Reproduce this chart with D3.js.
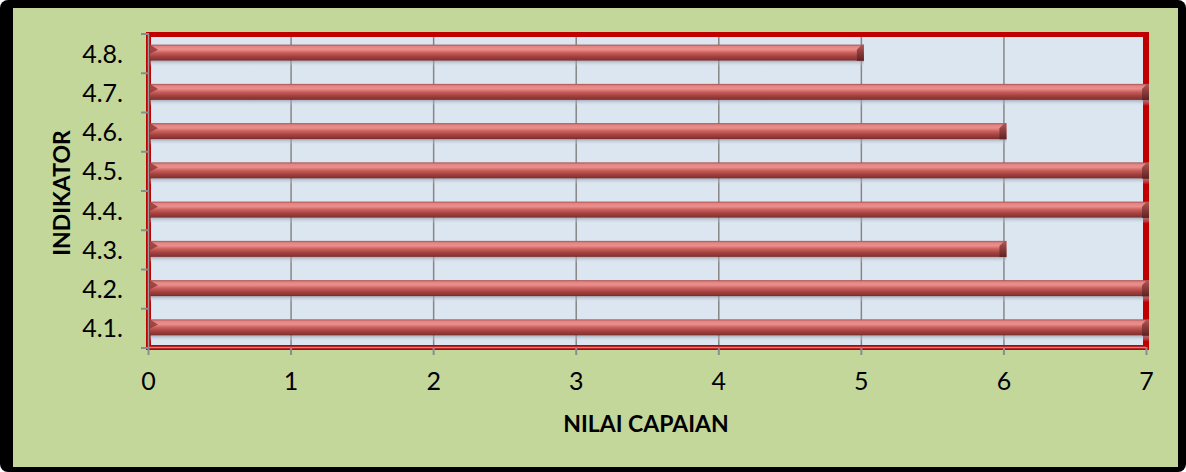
<!DOCTYPE html>
<html>
<head>
<meta charset="utf-8">
<script src="https://cdn.jsdelivr.net/npm/d3@7"></script>
<style>
  html, body { margin: 0; padding: 0; background: #ffffff; }
  svg { display: block; }
</style>
</head>
<body>
<div id="chart"></div>
<script>
// ---- data ----
const categories = ["4.1.", "4.2.", "4.3.", "4.4.", "4.5.", "4.6.", "4.7.", "4.8."];
const values = [7, 7, 6, 7, 7, 6, 7, 5];
const xTicks = [0, 1, 2, 3, 4, 5, 6, 7];
const xTitle = "NILAI CAPAIAN";
const yTitle = "INDIKATOR";

const W = 1186, H = 472;
const svg = d3.select("#chart").append("svg").attr("width", W).attr("height", H);

const defs = svg.append("defs");
const g1 = defs.append("linearGradient").attr("id", "barGrad").attr("x1", 0).attr("y1", 0).attr("x2", 0).attr("y2", 1);
[[0, "#a5504e"], [0.12, "#e38683"], [0.3, "#ec8f8c"], [0.5, "#c9605d"], [0.75, "#a2403e"], [0.92, "#8a3533"], [1, "#6f2a29"]]
  .forEach(([o, c]) => g1.append("stop").attr("offset", o).attr("stop-color", c));
const g2 = defs.append("linearGradient").attr("id", "capGrad").attr("x1", 0).attr("y1", 0).attr("x2", 0).attr("y2", 1);
[[0, "#b05a58"], [0.3, "#9a4644"], [1, "#5e2322"]]
  .forEach(([o, c]) => g2.append("stop").attr("offset", o).attr("stop-color", c));
const g3 = defs.append("linearGradient").attr("id", "shadowGrad").attr("x1", 0).attr("y1", 0).attr("x2", 0).attr("y2", 1);
[[0, "#8e97a6", 0.7], [1, "#dce6f1", 0]]
  .forEach(([o, c, op]) => g3.append("stop").attr("offset", o).attr("stop-color", c).attr("stop-opacity", op));

// frame
svg.append("rect").attr("x", 0).attr("y", 0).attr("width", W).attr("height", H).attr("rx", 8).attr("fill", "#000");
svg.append("rect").attr("x", 13).attr("y", 8).attr("width", 1165).attr("height", 459).attr("fill", "#c4d79b");

// scales
const x = d3.scaleLinear().domain([0, 7]).range([148, 1146]);
const y = d3.scaleBand().domain(categories.slice().reverse()).range([34, 348]).paddingInner(0).paddingOuter(0);

// plot area
svg.append("rect").attr("x", 146).attr("y", 32).attr("width", 1003).attr("height", 318).attr("fill", "#c00000");
svg.append("rect").attr("x", 151).attr("y", 37).attr("width", 992).attr("height", 308).attr("fill", "#dce6f1");

// gridlines
svg.append("g").selectAll("line").data(xTicks.filter(d => d > 0 && d < 7)).join("line")
  .attr("x1", d => x(d) + 0.5).attr("x2", d => x(d) + 0.5)
  .attr("y1", 37).attr("y2", 345)
  .attr("stroke", "#868686").attr("stroke-width", 1.5);

// axis lines (gray, between red edges)
svg.append("line").attr("x1", 148.5).attr("x2", 148.5).attr("y1", 34).attr("y2", 348).attr("stroke", "#9a9a9a").attr("stroke-width", 1.5);
svg.append("line").attr("x1", 148).attr("x2", 1146).attr("y1", 347.5).attr("y2", 347.5).attr("stroke", "#9a9a9a").attr("stroke-width", 1.5);

// y axis
const yAxis = d3.axisLeft(y).tickSize(0).tickPadding(25);
const yg = svg.append("g").attr("transform", "translate(148,0)").call(yAxis);
yg.select(".domain").remove();
yg.selectAll("text").attr("font-family", "Lato, 'Open Sans', sans-serif").attr("font-size", 25).attr("fill", "#000").attr("dy", "0.36em");
// y band-edge ticks
const edges = categories.map((c, i) => y(c)).concat([348]);
svg.append("g").selectAll("line").data(edges).join("line")
  .attr("x1", 141).attr("x2", 149).attr("y1", d => d).attr("y2", d => d)
  .attr("stroke", "#8c8c8c").attr("stroke-width", 2);

// x axis
const xAxis = d3.axisBottom(x).tickValues(xTicks).tickSize(8).tickPadding(17).tickFormat(d3.format("d"));
const xg = svg.append("g").attr("transform", "translate(0,347)").call(xAxis);
xg.select(".domain").remove();
xg.selectAll(".tick line").attr("stroke", "#8c8c8c").attr("stroke-width", 2);
xg.selectAll("text").attr("font-family", "Lato, 'Open Sans', sans-serif").attr("font-size", 25).attr("fill", "#000");

// bars
const bh = 16;
const bars = svg.append("g").selectAll("g").data(categories).join("g");
bars.append("rect")
  .attr("x", 150).attr("y", (d) => y(d) + y.bandwidth() / 2 - 1 + bh / 2)
  .attr("width", (d, i) => x(values[i]) + 3 - 150).attr("height", 6)
  .attr("fill", "url(#shadowGrad)");
bars.append("rect")
  .attr("x", 150).attr("y", d => y(d) + y.bandwidth() / 2 - 1 - bh / 2)
  .attr("width", (d, i) => x(values[i]) + 3 - 150).attr("height", bh)
  .attr("fill", "url(#barGrad)");
// end caps
bars.append("path")
  .attr("d", (d, i) => {
    const xe = x(values[i]) + 3, t = y(d) + y.bandwidth() / 2 - 1 - bh / 2;
    return `M${xe - 7},${t + bh} L${xe - 7},${t + 5} L${xe - 2},${t} L${xe},${t} L${xe},${t + bh} Z`;
  })
  .attr("fill", "url(#capGrad)");
// left start triangle
bars.append("path")
  .attr("d", d => {
    const t = y(d) + y.bandwidth() / 2 - 1 - bh / 2;
    return `M150,${t} L158,${t + 5} L150,${t + 9} Z`;
  })
  .attr("fill", "#8e3533").attr("opacity", 0.8);

// titles
svg.append("text").attr("x", 646).attr("y", 432).attr("text-anchor", "middle")
  .attr("font-family", "Lato, 'Open Sans', sans-serif").attr("font-weight", "bold").attr("font-size", 23)
  .attr("fill", "#000").text(xTitle);
svg.append("text").attr("transform", "translate(70,193) rotate(-90)").attr("text-anchor", "middle")
  .attr("font-family", "Lato, 'Open Sans', sans-serif").attr("font-weight", "bold").attr("font-size", 23)
  .attr("fill", "#000").text(yTitle);
</script>
</body>
</html>
